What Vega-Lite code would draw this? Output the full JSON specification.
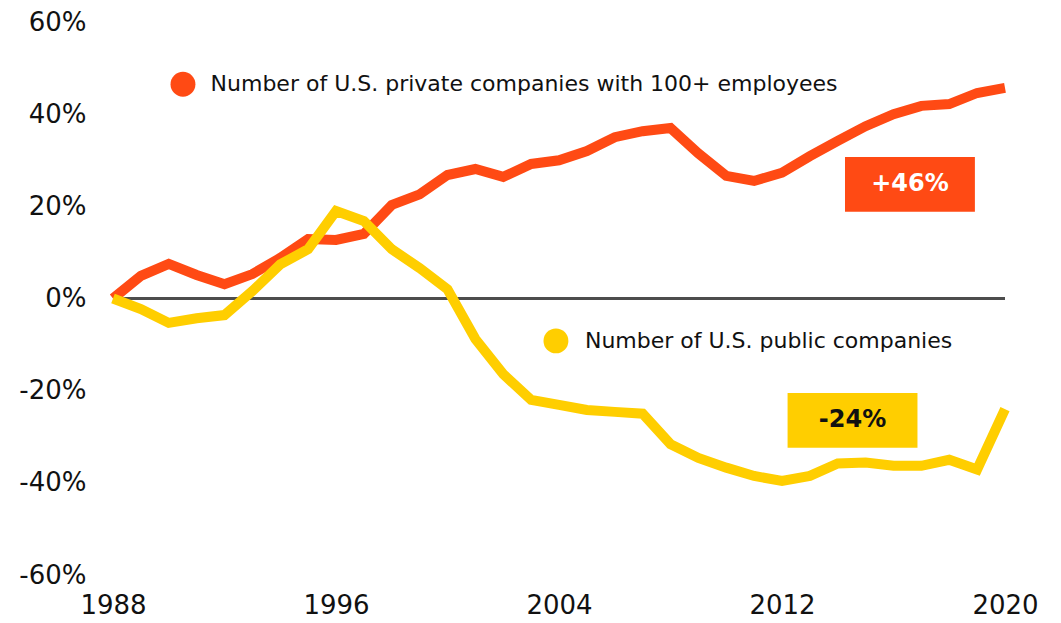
{
  "$schema": "https://vega.github.io/schema/vega-lite/v6.json",
  "autosize": {"type": "none"},
  "width": 892,
  "height": 553,
  "padding": {"left": 113, "top": 22, "right": 56, "bottom": 48},
  "background": "white",
  "config": {"view": {"stroke": null}, "font": "DejaVu Sans"},
  "datasets": {
    "private": [
      {"year": 1988, "value": 0}, {"year": 1989, "value": 4.9}, {"year": 1990, "value": 7.5},
      {"year": 1991, "value": 5.1}, {"year": 1992, "value": 3.1}, {"year": 1993, "value": 5.3},
      {"year": 1994, "value": 8.8}, {"year": 1995, "value": 12.9}, {"year": 1996, "value": 12.7},
      {"year": 1997, "value": 14.0}, {"year": 1998, "value": 20.3}, {"year": 1999, "value": 22.6},
      {"year": 2000, "value": 26.8}, {"year": 2001, "value": 28.1}, {"year": 2002, "value": 26.4},
      {"year": 2003, "value": 29.2}, {"year": 2004, "value": 30.0}, {"year": 2005, "value": 32.0},
      {"year": 2006, "value": 35.0}, {"year": 2007, "value": 36.3}, {"year": 2008, "value": 37.0},
      {"year": 2009, "value": 31.5}, {"year": 2010, "value": 26.6}, {"year": 2011, "value": 25.5},
      {"year": 2012, "value": 27.3}, {"year": 2013, "value": 30.9}, {"year": 2014, "value": 34.2},
      {"year": 2015, "value": 37.4}, {"year": 2016, "value": 40.0}, {"year": 2017, "value": 41.8},
      {"year": 2018, "value": 42.2}, {"year": 2019, "value": 44.6}, {"year": 2020, "value": 45.7}
    ],
    "public": [
      {"year": 1988, "value": 0}, {"year": 1989, "value": -2.3}, {"year": 1990, "value": -5.3},
      {"year": 1991, "value": -4.3}, {"year": 1992, "value": -3.6}, {"year": 1993, "value": 1.6},
      {"year": 1994, "value": 7.4}, {"year": 1995, "value": 10.7}, {"year": 1996, "value": 19.0},
      {"year": 1997, "value": 16.8}, {"year": 1998, "value": 10.7}, {"year": 1999, "value": 6.6},
      {"year": 2000, "value": 2.0}, {"year": 2001, "value": -8.8}, {"year": 2002, "value": -16.4},
      {"year": 2003, "value": -22.0}, {"year": 2004, "value": -23.1}, {"year": 2005, "value": -24.2},
      {"year": 2006, "value": -24.6}, {"year": 2007, "value": -25.0}, {"year": 2008, "value": -31.6},
      {"year": 2009, "value": -34.6}, {"year": 2010, "value": -36.7}, {"year": 2011, "value": -38.5},
      {"year": 2012, "value": -39.6}, {"year": 2013, "value": -38.5}, {"year": 2014, "value": -35.8},
      {"year": 2015, "value": -35.6}, {"year": 2016, "value": -36.3}, {"year": 2017, "value": -36.3},
      {"year": 2018, "value": -35.0}, {"year": 2019, "value": -37.1}, {"year": 2020, "value": -24.0}
    ],
    "one": [{"k": 1}]
  },
  "layer": [
    {
      "data": {"name": "one"},
      "mark": {"type": "rule", "color": "#4d4d4d", "strokeWidth": 3},
      "encoding": {
        "y": {
          "datum": 0, "type": "quantitative",
          "scale": {"domain": [-60, 60], "nice": false},
          "axis": {
            "values": [-60, -40, -20, 0, 20, 40, 60], "labelExpr": "datum.value + '%'", "title": null,
            "grid": false, "domain": false, "ticks": false,
            "labelFontSize": 26, "labelColor": "#111111", "labelPadding": 27,
            "labelFont": "DejaVu Sans"
          }
        }
      }
    },
    {
      "data": {"name": "private"},
      "mark": {"type": "line", "color": "#FF4A14", "strokeWidth": 10, "strokeJoin": "miter"},
      "encoding": {
        "x": {
          "field": "year", "type": "quantitative",
          "scale": {"domain": [1988, 2020], "nice": false, "zero": false},
          "axis": {
            "values": [1988, 1996, 2004, 2012, 2020], "format": "d", "title": null,
            "grid": false, "domain": false, "ticks": false,
            "labelFontSize": 26, "labelColor": "#111111", "labelPadding": 17,
            "labelFont": "DejaVu Sans", "labelFlush": false
          }
        },
        "y": {"field": "value", "type": "quantitative"}
      }
    },
    {
      "data": {"name": "public"},
      "mark": {"type": "line", "color": "#FFCE00", "strokeWidth": 10, "strokeJoin": "miter"},
      "encoding": {
        "x": {"field": "year", "type": "quantitative"},
        "y": {"field": "value", "type": "quantitative"}
      }
    },
    {
      "data": {"name": "one"},
      "mark": {"type": "rect", "color": "#FF4A14"},
      "encoding": {"x": {"datum": 2014.26}, "x2": {"datum": 2018.92}, "y": {"datum": 30.7}, "y2": {"datum": 18.8}}
    },
    {
      "data": {"name": "one"},
      "mark": {"type": "text", "text": "+46%", "color": "white", "fontSize": 24, "fontWeight": "bold", "align": "center", "baseline": "middle"},
      "encoding": {"x": {"datum": 2016.59}, "y": {"datum": 24.75}}
    },
    {
      "data": {"name": "one"},
      "mark": {"type": "rect", "color": "#FFCE00"},
      "encoding": {"x": {"datum": 2012.2}, "x2": {"datum": 2016.86}, "y": {"datum": -20.5}, "y2": {"datum": -32.4}}
    },
    {
      "data": {"name": "one"},
      "mark": {"type": "text", "text": "-24%", "color": "#111111", "fontSize": 24, "fontWeight": "bold", "align": "center", "baseline": "middle"},
      "encoding": {"x": {"datum": 2014.53}, "y": {"datum": -26.45}}
    },
    {
      "data": {"name": "one"},
      "mark": {"type": "point", "filled": true, "shape": "circle", "size": 620, "color": "#FF4A14", "opacity": 1},
      "encoding": {"x": {"datum": 1990.51}, "y": {"datum": 46.5}}
    },
    {
      "data": {"name": "one"},
      "mark": {"type": "text", "text": "Number of U.S. private companies with 100+ employees", "color": "#111111", "fontSize": 22, "align": "left", "baseline": "middle"},
      "encoding": {"x": {"datum": 1991.5}, "y": {"datum": 46.5}}
    },
    {
      "data": {"name": "one"},
      "mark": {"type": "point", "filled": true, "shape": "circle", "size": 620, "color": "#FFCE00", "opacity": 1},
      "encoding": {"x": {"datum": 2003.89}, "y": {"datum": -9.2}}
    },
    {
      "data": {"name": "one"},
      "mark": {"type": "text", "text": "Number of U.S. public companies", "color": "#111111", "fontSize": 22, "align": "left", "baseline": "middle"},
      "encoding": {"x": {"datum": 2004.93}, "y": {"datum": -9.2}}
    }
  ]
}
